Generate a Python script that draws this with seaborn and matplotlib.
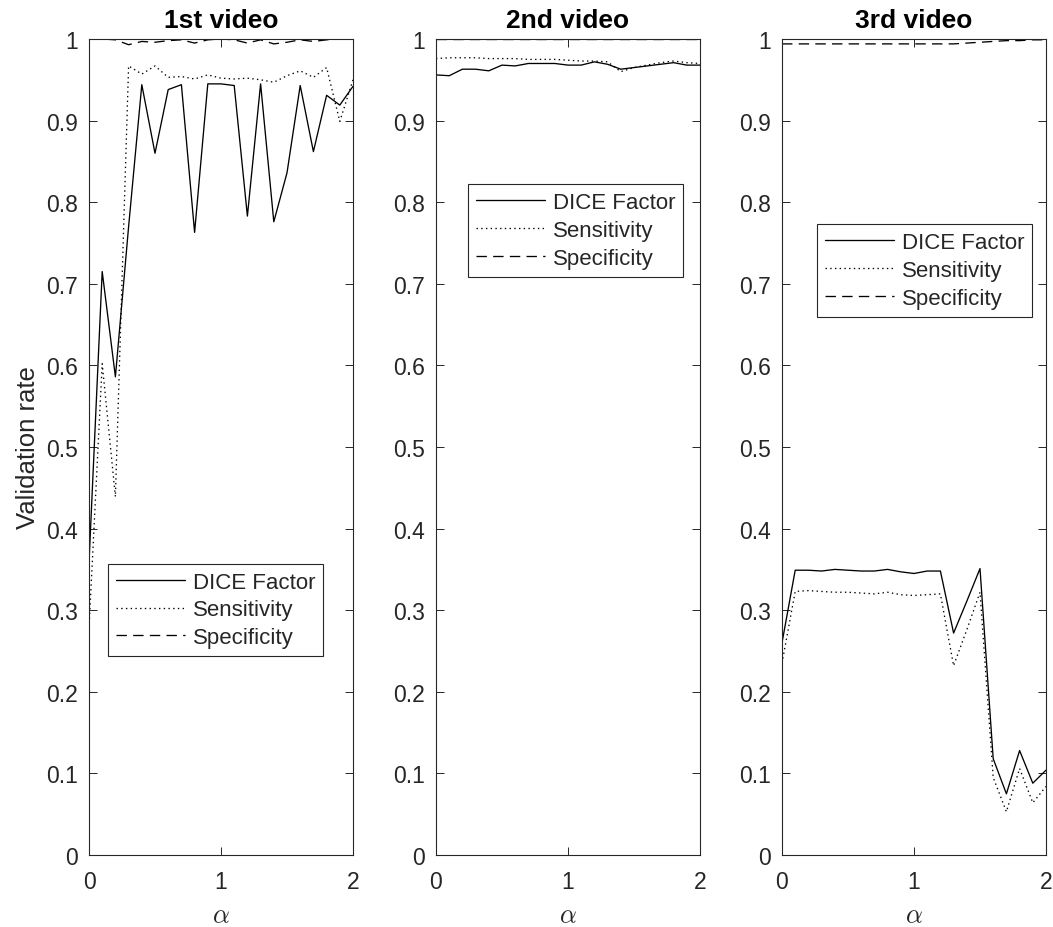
import numpy as np
import pandas as pd
import matplotlib
matplotlib.use("Agg")
import matplotlib.pyplot as plt
import seaborn as sns

# ---- data ----
alpha = [0.0, 0.1, 0.2, 0.3, 0.4, 0.5, 0.6, 0.7, 0.8, 0.9, 1.0,
         1.1, 1.2, 1.3, 1.4, 1.5, 1.6, 1.7, 1.8, 1.9, 2.0]

titles = ["1st video", "2nd video", "3rd video"]
metrics = ["DICE Factor", "Sensitivity", "Specificity"]

dice_v1 = [0.358, 0.715, 0.586, 0.770, 0.944, 0.860, 0.938, 0.944, 0.763, 0.945, 0.945,
           0.943, 0.783, 0.945, 0.776, 0.836, 0.943, 0.862, 0.931, 0.919, 0.942]
sens_v1 = [0.278, 0.602, 0.439, 0.967, 0.957, 0.967, 0.953, 0.954, 0.951, 0.956, 0.952,
           0.951, 0.952, 0.950, 0.947, 0.955, 0.961, 0.953, 0.965, 0.899, 0.950]
spec_v1 = [1.000, 1.000, 0.999, 0.993, 0.997, 0.996, 0.998, 0.999, 0.995, 0.999, 1.000,
           0.999, 0.995, 0.999, 0.994, 0.996, 0.999, 0.997, 0.999, 1.000, 1.000]

dice_v2 = [0.956, 0.955, 0.963, 0.963, 0.961, 0.968, 0.967, 0.970, 0.970, 0.970, 0.968,
           0.968, 0.972, 0.969, 0.963, 0.965, 0.967, 0.969, 0.971, 0.968, 0.968]
sens_v2 = [0.976, 0.977, 0.977, 0.977, 0.976, 0.976, 0.976, 0.975, 0.975, 0.975, 0.974,
           0.973, 0.973, 0.972, 0.960, 0.965, 0.968, 0.971, 0.973, 0.971, 0.970]
spec_v2 = [0.9995, 0.9995, 0.9995, 0.9995, 0.9995, 0.9995, 0.9995, 0.9995, 0.9995, 0.9995, 0.9995,
           0.9995, 0.9995, 0.9995, 0.9995, 0.9995, 0.9995, 0.9995, 0.9995, 0.9995, 0.9995]

dice_v3 = [0.260, 0.349, 0.349, 0.348, 0.350, 0.349, 0.348, 0.348, 0.350, 0.347, 0.345,
           0.348, 0.348, 0.272, 0.311, 0.351, 0.118, 0.075, 0.128, 0.088, 0.104]
sens_v3 = [0.235, 0.323, 0.324, 0.323, 0.322, 0.322, 0.321, 0.320, 0.322, 0.319, 0.318,
           0.319, 0.320, 0.232, 0.276, 0.322, 0.095, 0.053, 0.106, 0.064, 0.084]
spec_v3 = [0.994, 0.994, 0.994, 0.994, 0.994, 0.994, 0.994, 0.994, 0.994, 0.994, 0.994,
           0.994, 0.994, 0.994, 0.995, 0.996, 0.997, 0.998, 0.998, 0.999, 0.999]

videos = [(dice_v1, sens_v1, spec_v1), (dice_v2, sens_v2, spec_v2), (dice_v3, sens_v3, spec_v3)]

yticks = [0, 0.1, 0.2, 0.3, 0.4, 0.5, 0.6, 0.7, 0.8, 0.9, 1]
ytick_labels = ["0", "0.1", "0.2", "0.3", "0.4", "0.5", "0.6", "0.7", "0.8", "0.9", "1"]
xticks = [0, 1, 2]
xtick_labels = ["0", "1", "2"]

# ---- style ----
sns.set_theme(style="white")
plt.rcParams["font.family"] = ["Liberation Sans", "DejaVu Sans"]
plt.rcParams["mathtext.fontset"] = "cm"
plt.rcParams["lines.scale_dashes"] = False
AX_COL = "#262626"
FS_TICK = 16.5
FS_LEG = 16
FS_TITLE = 19
FS_YLAB = 18.5
FS_XLAB = 19

fig = plt.figure(figsize=(10.53, 9.28), dpi=100)
W, H = 1053, 928
ax_left_px = [89, 436, 782]
ax_w_px = 264
ax_top_px, ax_bot_px = 40, 856

legend_pos = [(0.072, 0.357), (0.121, 0.822), (0.133, 0.773)]

dash_map = {"DICE Factor": "", "Sensitivity": (1, 2.4), "Specificity": (7.5, 4.5)}

for i, (vals, title) in enumerate(zip(videos, titles)):
    ax = fig.add_axes([ax_left_px[i] / W, (H - ax_bot_px) / H,
                       ax_w_px / W, (ax_bot_px - ax_top_px) / H])
    df = pd.DataFrame({
        "alpha": alpha * 3,
        "value": list(vals[0]) + list(vals[1]) + list(vals[2]),
        "metric": [metrics[0]] * len(alpha) + [metrics[1]] * len(alpha) + [metrics[2]] * len(alpha),
    })
    sns.lineplot(data=df, x="alpha", y="value", style="metric", style_order=metrics,
                 dashes=dash_map, color="black", linewidth=0.95, estimator=None,
                 sort=False, legend=False, ax=ax)
    ax.set_xlim(0, 2)
    ax.set_ylim(0, 1)
    ax.set_xticks(xticks)
    ax.set_xticklabels(xtick_labels)
    ax.set_yticks(yticks)
    ax.set_yticklabels(ytick_labels)
    ax.tick_params(direction="in", length=5.5, width=0.7, colors=AX_COL,
                   labelsize=FS_TICK, top=True, right=True, bottom=True, left=True,
                   labelcolor=AX_COL)
    ax.tick_params(axis="x", pad=11)
    ax.tick_params(axis="y", pad=8)
    for sp in ax.spines.values():
        sp.set_visible(True)
        sp.set_color(AX_COL)
        sp.set_linewidth(0.8)
    ax.set_xlabel(r"$\alpha$", fontsize=FS_XLAB, color=AX_COL, labelpad=7)
    if i == 0:
        ax.set_ylabel("Validation rate", fontsize=FS_YLAB, color=AX_COL, labelpad=4)
    else:
        ax.set_ylabel("")
    ax.set_title(title, fontsize=FS_TITLE, fontweight="bold", color="black", pad=9)
    handles = ax.get_lines()[:3]
    leg = ax.legend(handles, metrics, loc="upper left", bbox_to_anchor=legend_pos[i],
                    fontsize=FS_LEG, frameon=True, fancybox=False, framealpha=1,
                    edgecolor=AX_COL, handlelength=3.1, handletextpad=0.35,
                    labelspacing=0.3, borderpad=0.36, borderaxespad=0.0)
    leg.get_frame().set_linewidth(0.8)

fig.savefig("out.png", dpi=100)
